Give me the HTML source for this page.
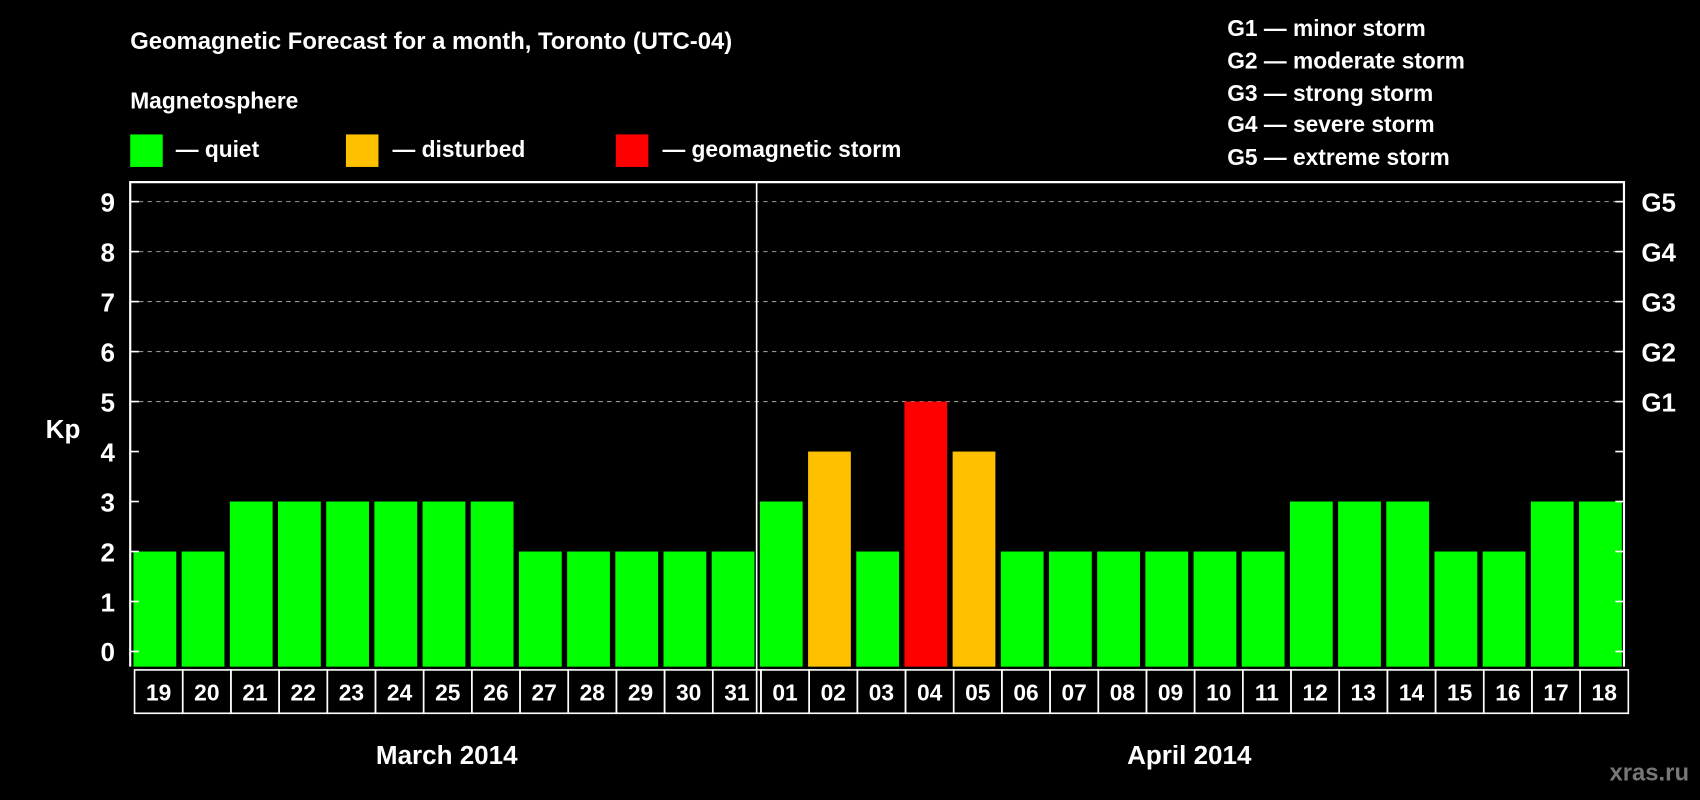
<!DOCTYPE html>
<html><head><meta charset="utf-8"><style>
html,body{margin:0;padding:0;background:#000;}
svg{display:block;font-family:"Liberation Sans",sans-serif;font-weight:bold;}
</style></head><body>
<svg id="chart" width="1700" height="800" viewBox="0 0 1568 738" xmlns="http://www.w3.org/2000/svg">
<rect x="0" y="0" width="1568" height="738" fill="#000"/>
<text x="120" y="45" fill="#fff" font-size="22">Geomagnetic Forecast for a month, Toronto (UTC-04)</text>
<text x="120" y="100" fill="#fff" font-size="21">Magnetosphere</text>
<g><rect x="120" y="124" width="30" height="30" fill="#00ff00"/><text x="162" y="145" fill="#fff" font-size="21">— quiet</text></g>
<g><rect x="319" y="124" width="30" height="30" fill="#ffc000"/><text x="362" y="145" fill="#fff" font-size="21">— disturbed</text></g>
<g><rect x="568" y="124" width="30" height="30" fill="#ff0000"/><text x="611" y="145" fill="#fff" font-size="21">— geomagnetic storm</text></g>
<g fill="#fff" font-size="21">
<text x="1132" y="33">G1 — minor storm</text>
<text x="1132" y="63">G2 — moderate storm</text>
<text x="1132" y="93">G3 — strong storm</text>
<text x="1132" y="122">G4 — severe storm</text>
<text x="1132" y="152">G5 — extreme storm</text>
</g>
<text x="58" y="404" fill="#fff" font-size="24" text-anchor="middle">Kp</text>
<g id="plot"></g>
<text x="412" y="705" fill="#fff" font-size="24" text-anchor="middle">March 2014</text>
<text x="1097" y="705" fill="#fff" font-size="24" text-anchor="middle">April 2014</text>
<text x="1558" y="720" fill="#777" font-size="22" text-anchor="end">xras.ru</text>
</svg>
<script>
const days = ["19","20","21","22","23","24","25","26","27","28","29","30","31","01","02","03","04","05","06","07","08","09","10","11","12","13","14","15","16","17","18"];
const kpValues = [2,2,3,3,3,3,3,3,2,2,2,2,2,3,4,2,5,4,2,2,2,2,2,2,3,3,3,2,2,3,3];
const yTicks = [0,1,2,3,4,5,6,7,8,9];
const gLabels = ["G1","G2","G3","G4","G5"];
const gLevels = [5,6,7,8,9];
const monthSplitIndex = 13;

const NS = "http://www.w3.org/2000/svg";
const plot = document.getElementById("plot");
const X0 = 120, X1 = 1498, YTOP = 168, YBOT = 615;
const n = days.length;
const slot = (X1 - X0) / n;
function xPos(i){ return X0 + i * slot; }
function yPos(v){ return 601 - v * (601 - 186) / 9; }
function mk(tag, attrs){ const e = document.createElementNS(NS, tag); for (const k in attrs) e.setAttribute(k, attrs[k]); plot.appendChild(e); return e; }
function color(v){ return v >= 5 ? "#ff0000" : (v >= 4 ? "#ffc000" : "#00ff00"); }

// gridlines
yTicks.forEach(t => {
  if (t >= 5) {
    const g = mk("line", {x1: X0, x2: X1, y1: yPos(t), y2: yPos(t), stroke: "#999", "stroke-width": 1, "stroke-dasharray": "4,4"});
    
    
  }
});
// bars
kpValues.forEach((v, i) => {
  const b = mk("rect", {x: xPos(i) + 3, width: slot - 5, y: yPos(v), height: YBOT - yPos(v), fill: color(v)});
  
  
});
// frame
const fr = mk("path", {d: `M${X0},${YBOT} V${YTOP} H${X1} V${YBOT}`, fill: "none", stroke: "#fff", "stroke-width": 2});


const sep = mk("line", {x1: xPos(monthSplitIndex), x2: xPos(monthSplitIndex), y1: YTOP, y2: 658, stroke: "#fff", "stroke-width": 1.5});


// y ticks left and right
yTicks.forEach(t => {
  const y = yPos(t);
  const tl = mk("line", {x1: X0, x2: X0 + 8, y1: y, y2: y, stroke: "#fff", "stroke-width": 1.5});
  
  
  const tr = mk("line", {x1: X1 - 8, x2: X1, y1: y, y2: y, stroke: "#fff", "stroke-width": 1.5});
  
  
  const lb = mk("text", {x: 106, y: y + 9, fill: "#fff", "font-size": 24, "text-anchor": "end"});
  lb.textContent = t;
  
  
});
gLabels.forEach((g, i) => {
  const lb = mk("text", {x: 1514, y: yPos(gLevels[i]) + 9, fill: "#fff", "font-size": 24});
  lb.textContent = g;
  
  
});
// date boxes
days.forEach((d, i) => {
  const r = mk("rect", {x: xPos(i) + 4, y: 618, width: slot, height: 40, fill: "none", stroke: "#fff", "stroke-width": 1.5});
  
  
  const t = mk("text", {x: xPos(i) + 4 + slot / 2, y: 646, fill: "#fff", "font-size": 21, "text-anchor": "middle"});
  t.textContent = d;
  
  
});
</script>
</body></html>
